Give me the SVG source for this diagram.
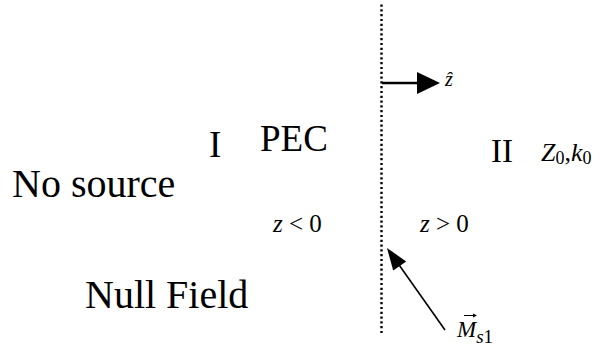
<svg xmlns="http://www.w3.org/2000/svg" width="603" height="350" viewBox="0 0 603 350">
<style>
text{font-family:'Liberation Serif','DejaVu Serif','Times New Roman',serif;fill:#000}
.i{font-style:italic}
.ln{stroke:#000;fill:none}
</style>
<rect width="603" height="350" fill="#fff"/>
<g id="boundary">
<line class="ln" x1="381.5" y1="4.5" x2="381.5" y2="333" stroke-width="2.4" stroke-dasharray="2.2 2.6"/>
</g>
<g id="labels" font-family="Liberation Serif, DejaVu Serif, serif">
<text x="12" y="197" font-size="40">No source</text>
<text x="85" y="308" font-size="40">Null Field</text>
<text x="209" y="157" font-size="37">I</text>
<text x="260" y="151" font-size="37">PEC</text>
<text x="491" y="162" font-size="33">II</text>
<text x="541" y="161" font-size="26"><tspan class="i">Z</tspan><tspan font-size="18" dy="3">0</tspan><tspan dy="-3">,</tspan><tspan class="i">k</tspan><tspan font-size="18" dy="3">0</tspan></text>
<text class="i" x="445" y="86" font-size="20">ẑ</text>
<text x="273" y="232" font-size="25"><tspan class="i">z</tspan> &lt; 0</text>
<text x="420" y="232" font-size="25"><tspan class="i">z</tspan> &gt; 0</text>
<text x="457" y="337" font-size="23"><tspan class="i">M</tspan><tspan font-size="19" dy="6"><tspan class="i">s</tspan>1</tspan></text>
<line class="ln" x1="464" y1="315.5" x2="474" y2="315.5" stroke-width="1"/>
<polygon points="477,315.5 473,313.5 473,317.5" fill="#000"/>
</g>
<g id="connectors">
<line class="ln" x1="382" y1="83" x2="419" y2="83" stroke-width="2.5"/>
<polygon points="417,72 440,83 417,94" fill="#000"/>
<line class="ln" x1="445" y1="330" x2="397" y2="262" stroke-width="1.6"/>
<polygon points="387,248 406.2,261.4 393.2,270.6" fill="#000"/>
</g>
</svg>
